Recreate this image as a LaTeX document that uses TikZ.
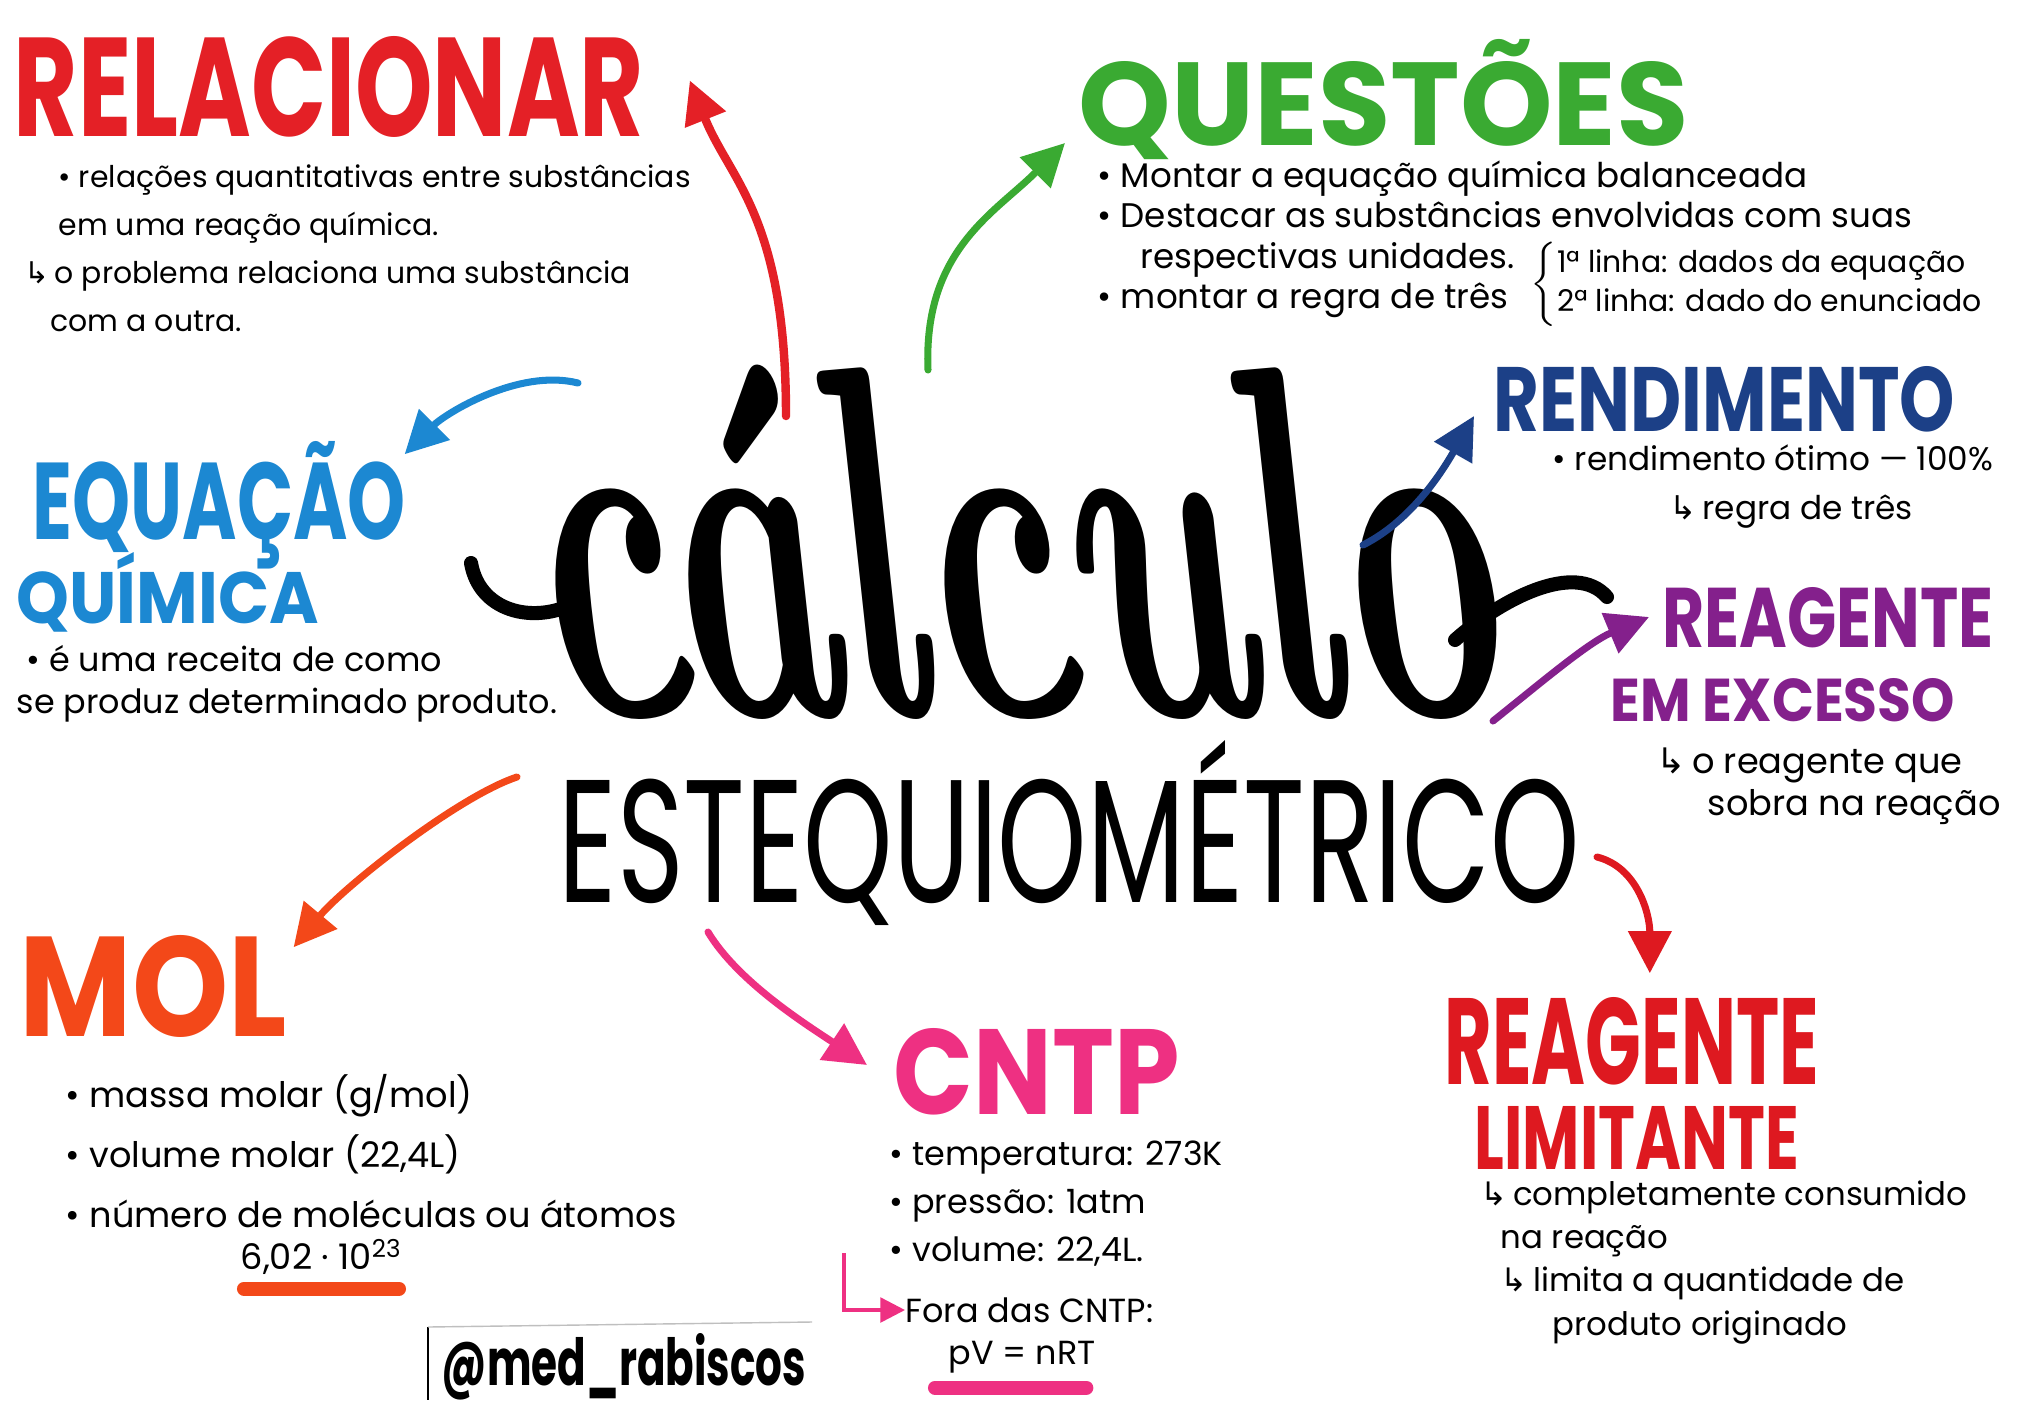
\documentclass[tikz,border=0pt]{standalone}
\usepackage{fontspec}
\usepackage{graphicx}
\newfontfamily\handfont{Poppins}
\newfontfamily\arrowfont{DejaVu Sans}
\usetikzlibrary{arrows.meta,positioning}

\definecolor{relred}{RGB}{228,32,38}
\definecolor{quegreen}{RGB}{58,170,50}
\definecolor{rennavy}{RGB}{28,64,135}
\definecolor{excpurple}{RGB}{132,32,140}
\definecolor{limred}{RGB}{222,25,32}
\definecolor{cntppink}{RGB}{238,48,130}
\definecolor{molorange}{RGB}{243,72,25}
\definecolor{eqblue}{RGB}{28,136,210}

\newcommand{\hk}{{\arrowfont ↳}\,}

\tikzset{
  head/.style={inner sep=0pt, anchor=base west, font=\handfont\bfseries},
  note/.style={inner sep=0pt, align=left, anchor=north west,
    font=\handfont\fontsize{9.7}{11.5}\selectfont},
  seta/.style={line width=2pt, line cap=round, -{Triangle[length=12pt,width=12pt]}},
}

\begin{document}
\begin{tikzpicture}[x=0.01cm,y=-0.01cm]
  \fill[white] (0,0) rectangle (2036,1424);
  \useasboundingbox (0,0) rectangle (2036,1424);

  % titulo central (itálico endireitado)
  \node[inner sep=0pt, anchor=base west, font=\bfseries\itshape, xslant=-0.25, transform shape] (calc) at (552,715)
    {\resizebox{97mm}{35mm}{cálculo}};
  \node[inner sep=0pt, anchor=base west, font=\handfont] (esteq) at (558,902)
    {\resizebox{102mm}{16.2mm}{ESTEQUIOMÉTRICO}};
  \draw[line width=4pt, line cap=round] (471,563) .. controls (480,615) and (540,625) .. (580,600); % entrada do c
  \draw[line width=4pt, line cap=round] (1455,640) .. controls (1500,600) and (1575,560) .. (1607,597); % saida do o

  % relacionar
  \node[head, text=relred] (rel) at (13,136) {\resizebox{63mm}{10mm}{RELACIONAR}};
  \node[note, font=\handfont\fontsize{8.5}{13.7}\selectfont] (relText) at (24,164)
    {\hspace*{3.4mm}• relações quantitativas entre substâncias\\
     \hspace*{3.4mm}em uma reação química.\\
     \hk o problema relaciona uma substância\\
     \hspace*{2.6mm}com a outra.};

  % questoes
  \node[head, text=quegreen] (que) at (1078,145) {\resizebox{61mm}{10.6mm}{QUESTÕES}};
  \node[note] (queText) at (1097,160)
    {• Montar a equação química balanceada\\
     • Destacar as substâncias envolvidas com suas\\
     \hspace*{4.3mm}respectivas unidades.\\
     • montar a regra de três};
  \node[inner sep=0pt, anchor=west, font=\handfont\fontsize{8.5}{11}\selectfont] (linhas) at (1530,284)
    {$\left\{\begin{tabular}{@{}l@{}}1ª linha: dados da equação\\2ª linha: dado do enunciado\end{tabular}\right.$};

  % rendimento
  \node[head, text=rennavy] (ren) at (1493,431) {\resizebox{46.1mm}{6.5mm}{RENDIMENTO}};
  \node[note, font=\handfont\fontsize{9.3}{14}\selectfont] (renText) at (1552,444)
    {• rendimento ótimo — 100\%\\
     \hspace*{11.7mm}\hk regra de três};

  % reagente em excesso
  \node[head, text=excpurple] (exc1) at (1662,647) {\resizebox{33.1mm}{6mm}{REAGENTE}};
  \node[head, text=excpurple] (exc2) at (1610,721) {\resizebox{34.4mm}{4.3mm}{EM EXCESSO}};
  \node[note, font=\handfont\fontsize{10}{12}\selectfont] (excText) at (1656,747)
    {\hk o reagente que\\
     \hspace*{5.1mm}sobra na reação};

  % reagente limitante
  \node[head, text=limred] (lim1) at (1444,1084) {\resizebox{37.4mm}{8.7mm}{REAGENTE}};
  \node[head, text=limred] (lim2) at (1474,1169) {\resizebox{32.4mm}{6.3mm}{LIMITANTE}};
  \node[note, font=\handfont\fontsize{9.2}{12.3}\selectfont] (limText) at (1480,1180)
    {\hk completamente consumido\\
     \hspace*{2mm}na reação\\
     \hspace*{2mm}\hk limita a quantidade de\\
     \hspace*{7.2mm}produto originado};

  % cntp
  \node[head, text=cntppink] (cntp) at (893,1114) {\resizebox{28.6mm}{8.6mm}{CNTP}};
  \node[note, font=\handfont\fontsize{9.5}{13.7}\selectfont] (cntpText) at (889,1140)
    {• temperatura: 273K\\
     • pressão: 1atm\\
     • volume: 22,4L.};
  \node[inner sep=0pt, anchor=west, font=\handfont\fontsize{9.5}{12}\selectfont] (fora) at (905,1310) {Fora das CNTP:};
  \node[inner sep=0pt, anchor=west, font=\handfont\fontsize{9.5}{12}\selectfont] (pv) at (948,1357) {pV = nRT};
  \draw[cntppink, line width=4pt, line cap=round]
    ([shift={(-13,14)}]pv.south west) -- ([shift={(-10,14)}]pv.south east);

  % mol
  \node[head, text=molorange] (mol) at (19,1036) {\resizebox{26.7mm}{10.1mm}{MOL}};
  \node[note, font=\handfont\fontsize{10}{17}\selectfont] (molText) at (65,1074)
    {• massa molar (g/mol)\\
     • volume molar (22,4L)\\
     • número de moléculas ou átomos};
  \node[inner sep=0pt, anchor=west, font=\handfont\fontsize{10}{12}\selectfont] (avo) at (240,1257)
    {6,02 · 10\textsuperscript{23}};
  \draw[molorange, line width=4pt, line cap=round]
    ([shift={(4,13)}]avo.south west) -- ([shift={(-4,13)}]avo.south east);

  % equacao quimica
  \node[head, text=eqblue] (eq1) at (32,539) {\resizebox{37.3mm}{9.8mm}{EQUAÇÃO}};
  \node[head, text=eqblue] (eq2) at (16,623) {\resizebox{30.2mm}{7.1mm}{QUÍMICA}};
  \node[note, font=\handfont\fontsize{9.5}{11.8}\selectfont] (eqText) at (16,645)
    {\hspace*{1mm}• é uma receita de como\\
     se produz determinado produto.};

  % assinatura
  \node[inner sep=0pt, anchor=base west, font=\handfont\bfseries] (insta) at (441,1385)
    {\resizebox{36.4mm}{5.2mm}{@med\_rabiscos}};
  \draw[thick] (428,1327) -- (428,1400);
  \draw[gray!50] (428,1327) -- (812,1322);

  % setas
  \coordinate (relTail) at (786,416);
  \coordinate (queTail) at (928,370);
  \coordinate (renTail) at (1363,545);
  \coordinate (excTail) at (1493,721);
  \coordinate (limTail) at (1597,857);
  \coordinate (cntpTail) at (708,932);
  \coordinate (molTail) at (517,777);
  \coordinate (eqTail) at (578,383);
  \coordinate (foraTail) at (844,1253);

  \draw[seta, relred, line width=2.4pt] (relTail) .. controls +(0,-200) and +(40,100) .. ([shift={(45,-6)}]rel.east);
  \draw[seta, quegreen] (queTail) .. controls +(-5,-120) and +(-70,70) .. ([shift={(-13,-2)}]que.base west);
  \draw[seta, rennavy] (renTail) .. controls +(40,-20) and +(-40,70) .. ([shift={(-19,-15)}]ren.base west);
  \draw[seta, excpurple] (excTail) .. controls +(50,-40) and +(-60,25) .. ([shift={(-13,-30)}]exc1.base west);
  \draw[seta, limred] (limTail) .. controls +(40,10) and +(0,-60) .. ([shift={(18,-23)}]lim1.north);
  \draw[seta, cntppink] (cntpTail) .. controls +(30,50) and +(-60,-40) .. ([shift={(-26,-49)}]cntp.base west);
  \draw[seta, molorange] (molTail) .. controls +(-60,20) and +(50,-60) .. ([shift={(6,13)}]mol.north east);
  \draw[seta, eqblue] (eqTail) .. controls +(-60,-15) and +(40,-40) .. ([shift={(-2,14)}]eq1.north east);
  \draw[cntppink, line width=1pt, -{Triangle[length=7pt,width=7pt]}] (foraTail) |- (fora.west);
\end{tikzpicture}
\end{document}
